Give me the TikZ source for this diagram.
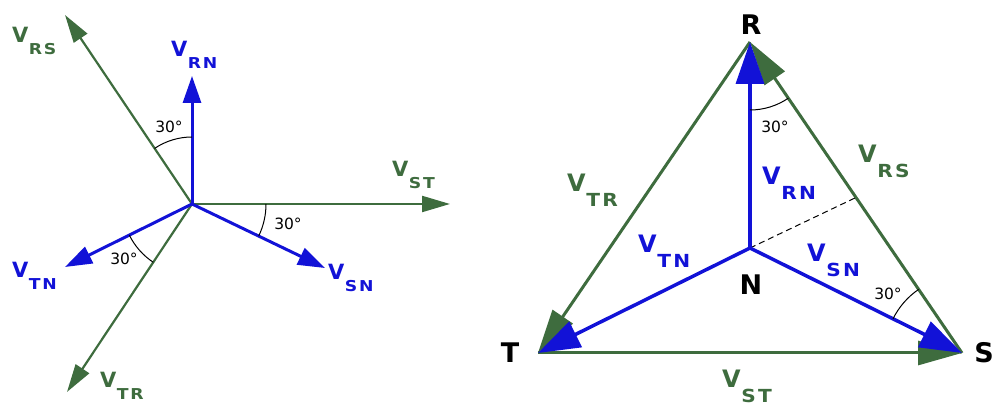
\documentclass[tikz,border=0pt]{standalone}
\usepackage{fontspec}
\usepackage{graphicx}
\setmainfont{DejaVu Sans}
\usetikzlibrary{arrows.meta,calc}
\definecolor{gr}{RGB}{62,108,62}
\definecolor{bl}{RGB}{18,18,215}
\newcommand\VL[1]{\bfseries\fontsize{21}{21}\selectfont V\kern0.5pt\raisebox{-12pt}{\fontsize{15}{15}\selectfont\scalebox{1.15}[1]{#1}}}
\newcommand\VR[1]{\bfseries\fontsize{24}{24}\selectfont V\kern0.5pt\raisebox{-15pt}{\fontsize{18}{18}\selectfont\scalebox{1.12}[1]{#1}}}
\begin{document}
\begin{tikzpicture}[x=1pt,y=1pt,
  gl/.style={draw=gr, line width=2.2pt, -{Triangle[length=28pt,width=16pt]}},
  blu/.style={draw=bl, line width=3pt, -{Triangle[length=27pt,width=18pt]}},
  gr2/.style={draw=gr, line width=3pt, -{Triangle[length=44pt,width=24pt]}},
  bl2/.style={draw=bl, line width=3.5pt, -{Triangle[length=42pt,width=28pt]}},
  lab/.style={inner sep=0pt, anchor=base west},
  ang/.style={inner sep=0pt, anchor=base, font=\fontsize{15.5}{15.5}\selectfont},
  vtx/.style={inner sep=0pt, anchor=base, font=\fontsize{27}{27}\selectfont\bfseries},
  arcl/.style={draw=black, line width=1pt}]
\useasboundingbox (0,0) rectangle (996,406);
% ---------- left phasor diagram ----------
\coordinate (O) at (192,202);
\coordinate (aRS) at (65,391);
\coordinate (aRN) at (192,330);
\coordinate (aST) at (450,202);
\coordinate (aSN) at (325,138);
\coordinate (aTN) at (65,139);
\coordinate (aTR) at (67,14);
\draw[gl] (O) -- (aRS);
\draw[gl] (O) -- (aST);
\draw[gl] (O) -- (aTR);
\draw[blu] (O) -- (aRN);
\draw[blu] (O) -- (aSN);
\draw[blu] (O) -- (aTN);
\draw[arcl] ($(O)+(90:67)$) arc[start angle=90, end angle=124, radius=67];
\draw[arcl] ($(O)+(0:74)$) arc[start angle=0, end angle=-25.7, radius=74];
\draw[arcl] ($(O)+(206.4:70)$) arc[start angle=206.4, end angle=236.4, radius=70];
\node[ang] (a1) at (169,273) {30°};
\node[ang] (a2) at (288,176) {30°};
\node[ang] (a3) at (124,141) {30°};
\node[lab, text=gr] (lRS) at (12,363) {\VL{R\kern1.5pt S}};
\node[lab, text=bl] (lRN) at (171,349) {\VL{R\kern1.5pt N}};
\node[lab, text=gr] (lST) at (392,229) {\VL{S\kern1.5pt T}};
\node[lab, text=bl] (lTN) at (12,128) {\VL{T\kern1.5pt N}};
\node[lab, text=bl] (lSN) at (328,126) {\VL{S\kern1.5pt N}};
\node[lab, text=gr] (lTR) at (100,18) {\VL{T\kern1.5pt R}};
% ---------- right triangle diagram ----------
\coordinate (R) at (750,364);
\coordinate (N) at (750,158);
\coordinate (T) at (538,53);
\coordinate (S) at (962,53);
\coordinate (M) at ($(R)!0.5!(S)$);
\draw[gr2] (T) -- (S);
\draw[gr2] (R) -- (T);
\draw[gr2] (S) -- (R);
\draw[black, line width=1pt, dash pattern=on 6pt off 4pt] (N) -- (M);
\draw[bl2] (N) -- (R);
\draw[bl2] (N) -- (T);
\draw[bl2] (N) -- (S);
\draw[arcl] ($(R)+(270:68)$) arc[start angle=270, end angle=304.3, radius=68];
\draw[arcl] ($(S)+(124.3:77)$) arc[start angle=124.3, end angle=153.7, radius=77];
\node[ang] (a4) at (775,273) {30°};
\node[ang] (a5) at (888,106) {30°};
\node[vtx] (nR) at (751,371) {R};
\node[vtx] (nT) at (510,43) {T};
\node[vtx] (nS) at (984,43) {S};
\node[vtx] (nN) at (751,111) {N};
\node[lab, text=gr] (rTR) at (567,214) {\VR{T\kern2pt R}};
\node[lab, text=gr] (rRS) at (858,243) {\VR{R\kern2pt S}};
\node[lab, text=bl] (rRN) at (762,221) {\VR{R\kern2pt N}};
\node[lab, text=bl] (rTN) at (638,153) {\VR{T\kern2pt N}};
\node[lab, text=bl] (rSN) at (807,144) {\VR{S\kern2pt N}};
\node[lab, text=gr] (rST) at (722,18) {\VR{S\kern2pt T}};
\end{tikzpicture}
\end{document}
